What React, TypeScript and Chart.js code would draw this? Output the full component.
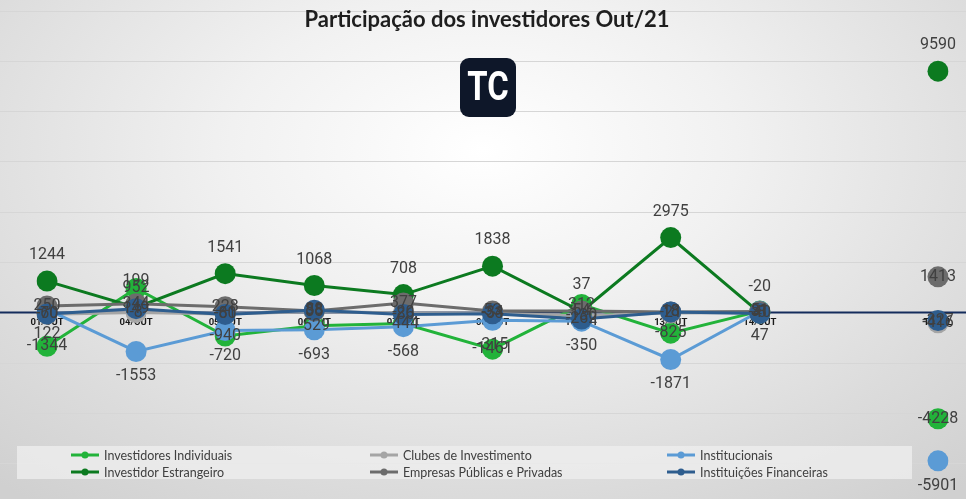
import React, { useEffect, useRef } from "react";
import { Chart, registerables } from "chart.js";

Chart.register(...registerables);

// ---- data ----
const categories = ["01/OUT", "04/OUT", "05/OUT", "06/OUT", "07/OUT", "08/OUT", "10/OUT", "13/OUT", "14/OUT", "", "TOTAL"];

const individuais = [-1344, 952, -940, -529, -444, -1461, 312, -825, 51, null, -4228];
const clubes = [-70, -8, -60, 35, -20, -34, -130, -21, -8, null, -416];
const institucionais = [122, -1553, -720, -693, -568, -315, -350, -1871, 47, null, -5901];
const estrangeiro = [1244, 199, 1541, 1068, 708, 1838, 37, 2975, -20, null, 9590];
const empresas = [250, 344, 228, 58, 377, 53, 54, 18, 31, null, 1413];
const financeiras = [-60, 149, -81, 88, -86, -53, -262, 18, -40, null, -327];

const gridValues = [-6000, -4000, -2000, 2000, 4000, 6000, 8000, 10000, 12000];
const Y_MIN = -7000;
const Y_MAX = 12000;

const TITLE = "Participação dos investidores Out/21";

const seriesDefs = [
  { label: "Investidores Individuais", data: individuais, color: "#22b33a", pos: "center" },
  { label: "Clubes de Investimento", data: clubes, color: "#a5a5a5", pos: "center" },
  { label: "Institucionais", data: institucionais, color: "#5b9bd5", pos: "below" },
  { label: "Investidor Estrangeiro", data: estrangeiro, color: "#0c7a20", pos: "above" },
  { label: "Empresas Públicas e Privadas", data: empresas, color: "#6c6c6c", pos: "center" },
  { label: "Instituições Financeiras", data: financeiras, color: "#2e5d8e", pos: "center" },
];

const gridPlugin = {
  id: "fullGrid",
  beforeDatasetsDraw(chart: any) {
    const { ctx, width } = chart;
    const y = chart.scales.y;
    ctx.save();
    ctx.strokeStyle = "#d6d6d6";
    ctx.lineWidth = 1;
    gridValues.forEach((v) => {
      const py = Math.round(y.getPixelForValue(v)) + 0.5;
      ctx.beginPath();
      ctx.moveTo(0, py);
      ctx.lineTo(width, py);
      ctx.stroke();
    });
    const zy = y.getPixelForValue(0);
    ctx.strokeStyle = "#142c5c";
    ctx.lineWidth = 2;
    ctx.beginPath();
    ctx.moveTo(0, zy);
    ctx.lineTo(width, zy);
    ctx.stroke();
    ctx.restore();
  },
};

const labelPlugin = {
  id: "dataLabels",
  afterDatasetsDraw(chart: any) {
    const { ctx } = chart;
    ctx.save();
    ctx.font = "16px Roboto";
    ctx.fillStyle = "#404040";
    ctx.textAlign = "center";
    ctx.textBaseline = "middle";
    chart.data.datasets.forEach((ds: any, i: number) => {
      const meta = chart.getDatasetMeta(i);
      const pos = seriesDefs[i].pos;
      meta.data.forEach((pt: any, j: number) => {
        const v = ds.data[j];
        if (v === null || v === undefined) return;
        let dy = 0;
        if (pos === "above") dy = -26;
        if (pos === "below") dy = 25;
        ctx.fillText(String(v), pt.x, pt.y + dy);
      });
    });
    ctx.restore();
  },
};

const decorPlugin = {
  id: "decor",
  afterDraw(chart: any) {
    const { ctx } = chart;
    ctx.save();
    // title
    ctx.font = "bold 22px Lato";
    ctx.fillStyle = "#1e1e1e";
    ctx.textAlign = "center";
    ctx.textBaseline = "middle";
    ctx.fillText(TITLE, 487, 20);
    // logo
    ctx.fillStyle = "#0e1729";
    ctx.beginPath();
    (ctx as any).roundRect(460, 58, 56, 59, 9);
    ctx.fill();
    ctx.save();
    ctx.translate(488, 89);
    ctx.scale(0.82, 1);
    ctx.fillStyle = "#ffffff";
    ctx.font = "bold 40px Roboto";
    ctx.fillText("TC", 0, 1);
    ctx.restore();
    // legend
    ctx.fillStyle = "rgba(238,238,238,0.8)";
    ctx.fillRect(17, 446, 895, 33);
    const cols = [71, 370, 667];
    const rows = [455, 472];
    ctx.font = "12.5px Lato";
    ctx.textAlign = "left";
    seriesDefs.forEach((s, i) => {
      const x = cols[i % 3];
      const y = rows[Math.floor(i / 3)];
      ctx.strokeStyle = s.color;
      ctx.lineWidth = 3;
      ctx.beginPath();
      ctx.moveTo(x, y);
      ctx.lineTo(x + 28, y);
      ctx.stroke();
      ctx.fillStyle = s.color;
      ctx.beginPath();
      ctx.arc(x + 14, y, 3.5, 0, Math.PI * 2);
      ctx.fill();
      ctx.fillStyle = "#404040";
      ctx.fillText(s.label, x + 33, y + 0.5);
    });
    ctx.restore();
  },
};

export default function App() {
  const ref = useRef<HTMLCanvasElement>(null);
  useEffect(() => {
    document.body.style.margin = "0";
    const chart = new Chart(ref.current as HTMLCanvasElement, {
      type: "line",
      data: {
        labels: categories,
        datasets: seriesDefs.map((s, i) => ({
          label: s.label,
          data: s.data,
          borderColor: s.color,
          backgroundColor: s.color,
          pointBackgroundColor: s.color,
          pointBorderColor: s.color,
          pointRadius: 10.5,
          pointBorderWidth: 0,
          borderWidth: 3,
          tension: 0,
          spanGaps: false,
          order: seriesDefs.length - i,
        })),
      } as any,
      options: {
        responsive: false,
        animation: false,
        layout: { padding: { left: 47, right: 28, top: 10, bottom: 9 } },
        scales: {
          x: {
            type: "category",
            offset: false,
            position: { y: 0 } as any,
            grid: { display: false, drawTicks: false },
            border: { display: false },
            ticks: {
              color: "#1a1a1a",
              font: { family: "Roboto", size: 9.5, weight: "bold" },
              padding: 5,
              maxRotation: 0,
              autoSkip: false,
            },
          },
          y: { display: false, min: Y_MIN, max: Y_MAX },
        },
        plugins: {
          legend: { display: false },
          tooltip: { enabled: false },
          title: { display: false },
        },
      } as any,
      plugins: [gridPlugin, labelPlugin, decorPlugin],
    });
    return () => chart.destroy();
  }, []);

  return (
    <div
      style={{
        position: "absolute",
        left: 0,
        top: 0,
        width: 966,
        height: 499,
        background:
          "radial-gradient(ellipse 75% 90% at 50% 30%, #ffffff 0%, #f1f1f1 35%, #dcdcdc 75%, #d0d0d0 100%)",
      }}
    >
      <canvas ref={ref} width={966} height={499} style={{ display: "block" }} />
    </div>
  );
}
